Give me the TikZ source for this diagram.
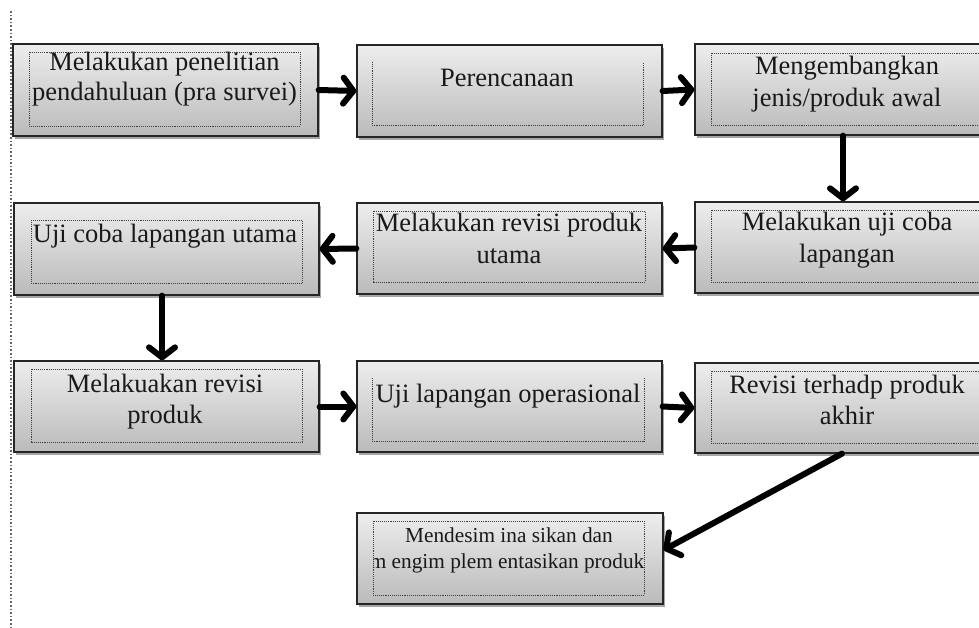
\documentclass[tikz,border=0pt]{standalone}
\usepackage{fontspec}
\setmainfont{Liberation Serif}
\usetikzlibrary{arrows.meta,shadows}
\begin{document}
\begin{tikzpicture}[x=1pt,y=-1pt,
  box/.style={draw=black!85, line width=1.3pt, rectangle, inner sep=0pt,
    top color=black!7, bottom color=black!27,
    drop shadow={shadow xshift=2pt, shadow yshift=-3pt, fill=black, opacity=0.35}},
  inbox/.style={draw=black!75, densely dotted, line width=0.9pt},
  txt/.style={inner sep=0pt, anchor=base, font=\fontsize{26.5}{31}\selectfont, text=black!90},
  smalltxt/.style={inner sep=0pt, anchor=base, font=\fontsize{21.3}{26}\selectfont, text=black!90},
  flow/.style={line width=6pt, draw=black, line cap=round,
    -{Straight Barb[length=10pt,width=26pt,round]}}
]
\clip (0,0) rectangle (979,628);
\fill[white] (0,0) rectangle (979,628);
% left dotted margin line
\draw[dotted, line width=1.6pt, black!60] (11,11) -- (11,628);

% boxes
\node[box, minimum width=305pt, minimum height=92pt] (b1) at (165.5,90) {};
\node[box, minimum width=305pt, minimum height=92pt] (b2) at (509.5,91) {};
\node[box, minimum width=305pt, minimum height=91pt] (b3) at (847.5,89.5) {};
\node[box, minimum width=305pt, minimum height=92pt] (b4) at (166.5,249) {};
\node[box, minimum width=305pt, minimum height=91pt] (b5) at (509.5,248.5) {};
\node[box, minimum width=305pt, minimum height=91pt] (b6) at (847.5,247.5) {};
\node[box, minimum width=305pt, minimum height=91pt] (b7) at (166.5,406.5) {};
\node[box, minimum width=305pt, minimum height=91pt] (b8) at (509.5,406.5) {};
\node[box, minimum width=305pt, minimum height=90pt] (b9) at (847.5,408) {};
\node[box, minimum width=306pt, minimum height=91pt] (b10) at (510,558.5) {};

% inner dotted frames
\draw[inbox] (29,52) rectangle (300,126);
\draw[inbox] (372,62) -- (372,125) -- (643,125) -- (643,62);
\draw[inbox] (711,53) rectangle (984,125);
\draw[inbox] (31,220) rectangle (302,283);
\draw[inbox] (373,211) rectangle (645,282);
\draw[inbox] (711,210) rectangle (984,282);
\draw[inbox] (31,369) rectangle (302,442);
\draw[inbox] (372,378) -- (372,441) -- (644,441) -- (644,378);
\draw[inbox] (711,371) rectangle (984,443);
\draw[inbox] (373,521) rectangle (644,595);

% texts
\node[txt] (t1a) at (164.5,71) {Melakukan penelitian};
\node[txt] (t1b) at (164.5,101) {pendahuluan (pra survei)};
\node[txt] (t2a) at (507,87) {Perencanaan};
\node[txt] (t3a) at (847,75) {Mengembangkan};
\node[txt] (t3b) at (847,107) {jenis/produk awal};
\node[txt] (t4a) at (165,243) {Uji coba lapangan utama};
\node[txt] (t5a) at (509,232) {Melakukan revisi produk};
\node[txt] (t5b) at (509,264) {utama};
\node[txt] (t6a) at (847,231) {Melakukan uji coba};
\node[txt] (t6b) at (847,262) {lapangan};
\node[txt] (t7a) at (165,392) {Melakuakan revisi};
\node[txt] (t7b) at (165,423) {produk};
\node[txt] (t8a) at (508,402) {Uji lapangan operasional};
\node[txt] (t9a) at (847,393) {Revisi terhadp produk};
\node[txt] (t9b) at (847,424) {akhir};
\begin{scope}
\clip (373,521) rectangle (645,595);
\node[smalltxt] (t10a) at (509,542) {Mendesim ina sikan dan};
\node[smalltxt, anchor=base east] (t10b) at (644.5,568) {m engim plem entasikan produk};
\end{scope}

% connectors
\draw[flow] (b1.east) -- (b2.west);
\draw[flow] (b2.east) -- (b3.west);
\draw[flow] ([xshift=-4.5pt]b3.south) -- ([xshift=-4.5pt]b6.north);
\draw[flow] (b6.west) -- (b5.east);
\draw[flow] (b5.west) -- (b4.east);
\draw[flow] ([xshift=-4.5pt]b4.south) -- ([xshift=-4.5pt]b7.north);
\draw[flow] (b7.east) -- (b8.west);
\draw[flow] (b8.east) -- (b9.west);
\draw[flow] ([xshift=-5.5pt]b9.south) -- ([yshift=8.5pt]b10.east);
\end{tikzpicture}
\end{document}
